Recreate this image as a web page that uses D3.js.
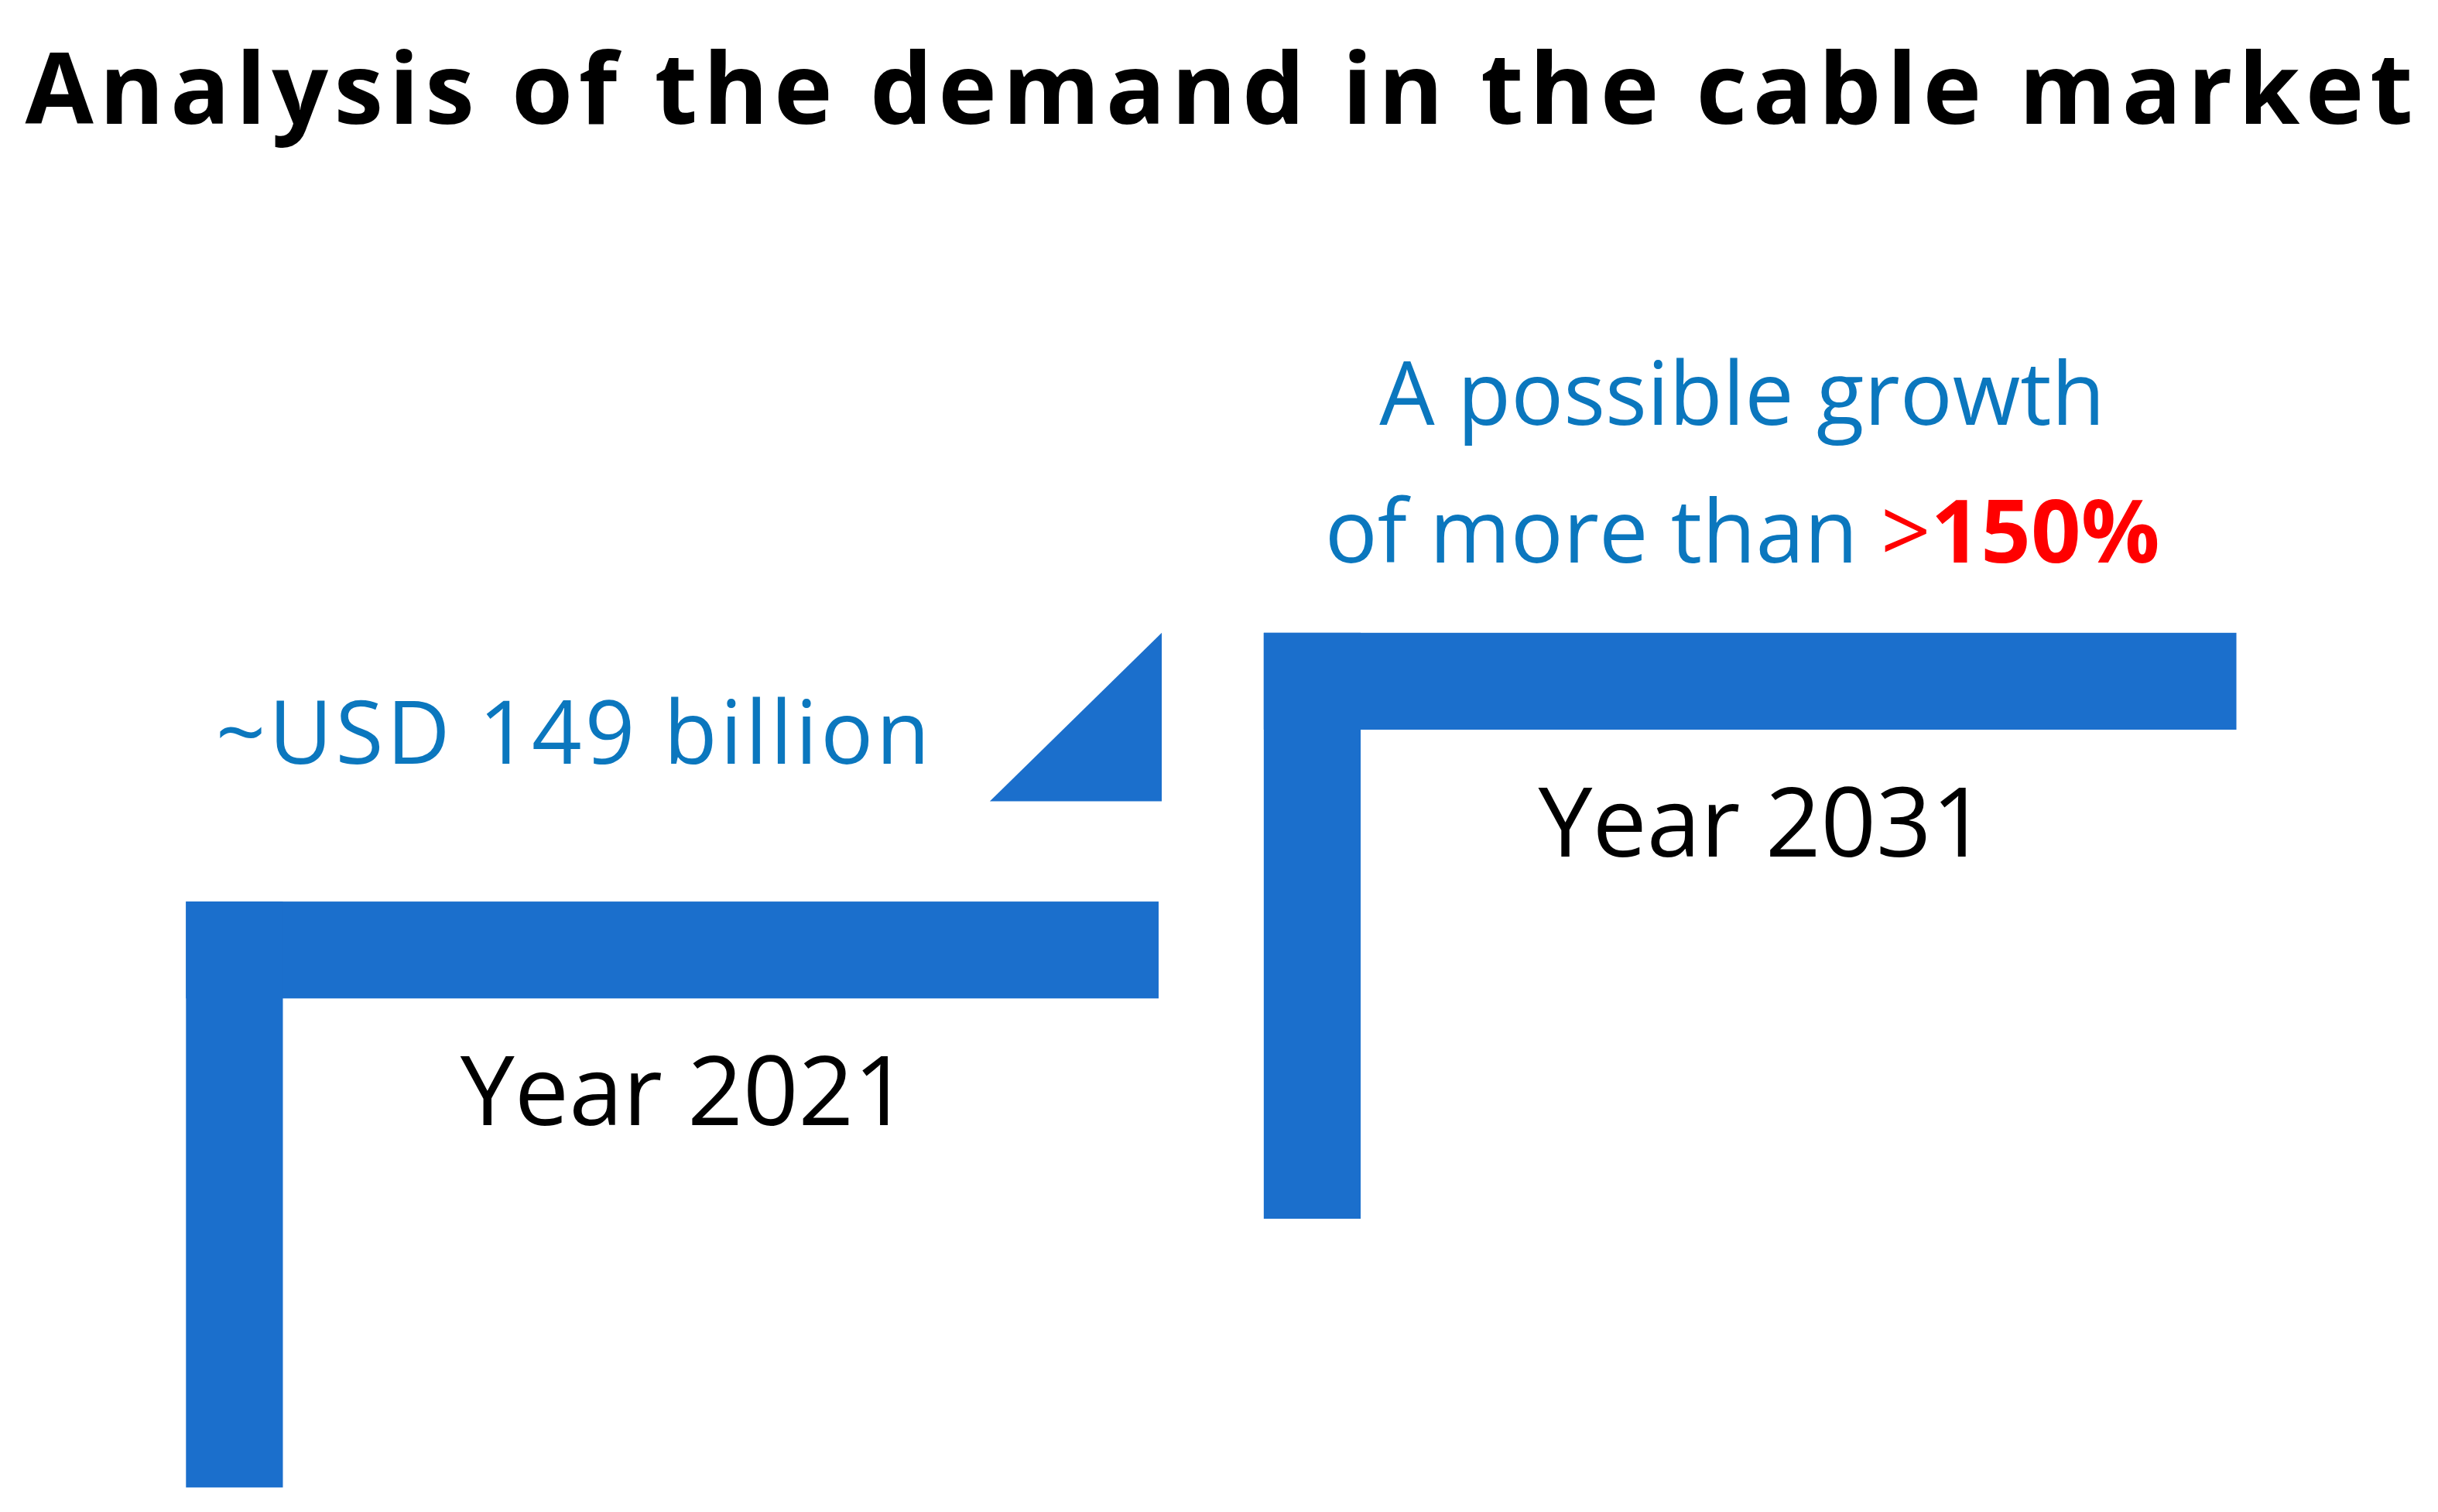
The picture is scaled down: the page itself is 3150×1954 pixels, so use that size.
<!DOCTYPE html>
<html>
<head>
<meta charset="utf-8">
<script src="https://cdn.jsdelivr.net/npm/d3@7"></script>
<style>
  body { margin: 0; background: #fff; }
</style>
</head>
<body>
<svg id="chart" width="3150" height="1954"></svg>
<script>
const years = ['Year 2021', 'Year 2031'];
const stepLevels = [0, 1];
const valueLabel = '~USD 149 billion';
const growthLines = ['A possible growth', 'of more than '];
const growthValue = '>150%';

const svg = d3.select('#chart');
const k = 3150 / 1560;
const blue = '#1B6FCC';
const textBlue = '#0B77BE';
const thick = 62 * k;

const x = d3.scaleBand()
  .domain(years)
  .range([119 * k, 1431 * k])
  .paddingInner(64 / 1312 * 2);

const y = d3.scaleLinear()
  .domain([0, 1])
  .range([577 * k, 405 * k]);

const stepHeight = 375 * k;

svg.append('text')
  .attr('x', 1575)
  .attr('y', 160)
  .attr('text-anchor', 'middle')
  .attr('font-family', 'Open Sans, sans-serif')
  .attr('font-weight', 'bold')
  .style('font-size', '128px')
  .attr('textLength', 3085)
  .text('Analysis of the demand in the cable market');

const steps = svg.append('g')
  .selectAll('g')
  .data(years)
  .enter()
  .append('g');

steps.append('rect')
  .attr('x', d => x(d))
  .attr('y', (d, i) => y(stepLevels[i]))
  .attr('width', x.bandwidth())
  .attr('height', thick)
  .attr('fill', blue);

steps.append('rect')
  .attr('x', d => x(d))
  .attr('y', (d, i) => y(stepLevels[i]))
  .attr('width', thick)
  .attr('height', stepHeight)
  .attr('fill', blue);

steps.append('text')
  .attr('x', d => x(d) + x.bandwidth() / 2 + 8 * k)
  .attr('y', (d, i) => y(stepLevels[i]) + 143 * k)
  .attr('text-anchor', 'middle')
  .attr('font-family', 'Open Sans, sans-serif')
  .style('font-size', `${62 * k}px`)
  .attr('fill', '#000')
  .text(d => d);

// arrow-head triangle between the steps
const tx = x(years[0]) + x.bandwidth();
svg.append('path')
  .attr('d', `M${tx - 108 * k},${y(0.373)}L${tx + 2 * k},${y(1)}L${tx + 2 * k},${y(0.373)}Z`)
  .attr('fill', blue);

svg.append('text')
  .attr('x', 138 * k)
  .attr('y', 489 * k)
  .attr('font-family', 'Open Sans, sans-serif')
  .style('font-size', `${56 * k}px`)
  .attr('fill', textBlue)
  .attr('textLength', 457 * k)
  .text(valueLabel);

const cx = x(years[1]) + x.bandwidth() / 2 - 5 * k;
svg.append('text')
  .attr('x', cx)
  .attr('y', 272 * k)
  .attr('text-anchor', 'middle')
  .attr('font-family', 'Open Sans, sans-serif')
  .style('font-size', `${56 * k}px`)
  .attr('fill', textBlue)
  .text(growthLines[0]);

const line2 = svg.append('text')
  .attr('x', cx)
  .attr('y', 360 * k)
  .attr('text-anchor', 'middle')
  .attr('font-family', 'Open Sans, sans-serif')
  .style('font-size', `${56 * k}px`)
  .attr('fill', textBlue);
line2.append('tspan').text(growthLines[1]);
line2.append('tspan').attr('fill', '#FF0000').text('>');
line2.append('tspan').attr('fill', '#FF0000').attr('font-weight', 'bold').text(growthValue.slice(1));
</script>
</body>
</html>
